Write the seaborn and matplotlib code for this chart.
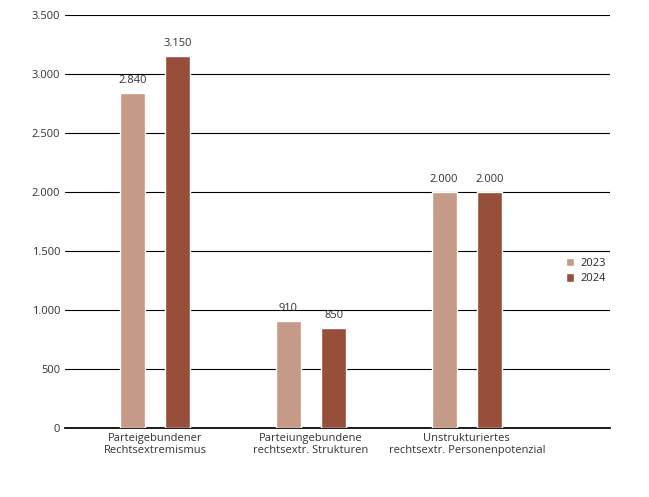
import matplotlib.pyplot as plt
import pandas as pd
import seaborn as sns
from matplotlib.ticker import FuncFormatter

categories = ["Parteigebundener\nRechtsextremismus",
              "Parteiungebundene\nrechtsextr. Strukturen",
              "Unstrukturiertes\nrechtsextr. Personenpotenzial"]
years = ["2023", "2024"]
values_2023 = [2840, 910, 2000]
values_2024 = [3150, 850, 2000]

df = pd.DataFrame({
    "cat": categories * 2,
    "year": [years[0]] * 3 + [years[1]] * 3,
    "value": values_2023 + values_2024,
})


def fmt(x, _=None):
    return f"{int(x):,}".replace(",", ".")


sns.set_theme(style="white")
plt.rcParams["font.family"] = ["Open Sans", "DejaVu Sans"]

fig = plt.figure(figsize=(6.49, 4.97), dpi=100)
ax = fig.add_axes([0.1, 0.139, 0.84, 0.831])
sns.barplot(data=df, x="cat", y="value", hue="year", palette=["#cf967d", "#a6452b"],
            width=0.58, gap=0.45, ax=ax, zorder=3)

ax.set_ylim(0, 3500)
ax.set_xlim(-0.58, 2.92)
ax.set_yticks(range(0, 3501, 500))
ax.yaxis.set_major_formatter(FuncFormatter(fmt))
ax.yaxis.grid(True, color="black", linewidth=0.8, zorder=0)
for s in ["left", "right", "top"]:
    ax.spines[s].set_visible(False)
ax.spines["bottom"].set_color("black")
ax.tick_params(axis="both", labelsize=8, colors="#333333", length=0)
ax.set_xlabel("")
ax.set_ylabel("")

for cont in ax.containers:
    ax.bar_label(cont, labels=[fmt(v) for v in cont.datavalues], padding=5,
                 fontsize=8, color="#333333")

ax.legend(loc="center left", bbox_to_anchor=(0.9, 0.38), frameon=False,
          fontsize=8, handlelength=0.8, handleheight=0.8, handletextpad=0.5,
          labelspacing=0.4)

fig.savefig("out.png", dpi=100)
